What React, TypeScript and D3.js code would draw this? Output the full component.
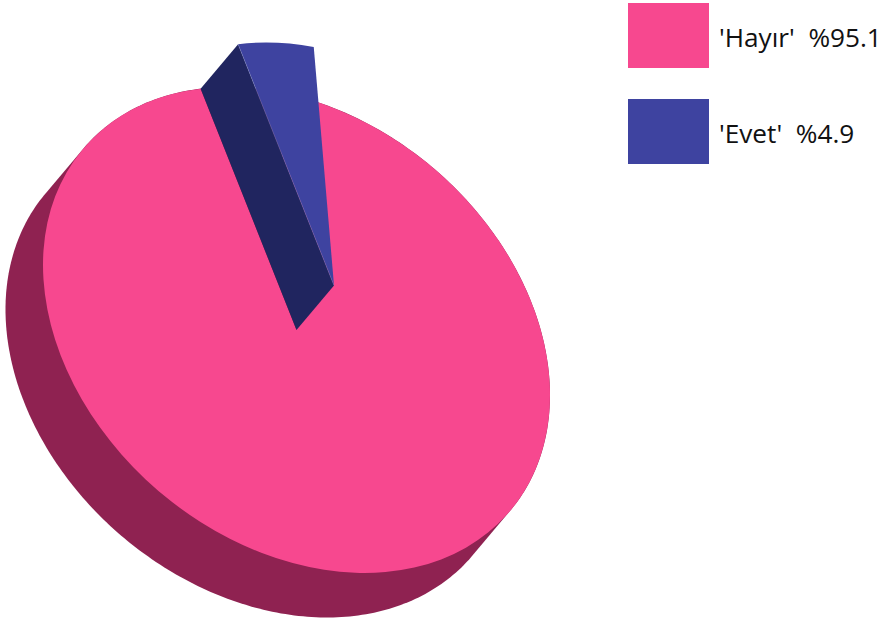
import React from "react";
import * as d3 from "d3";

const categories = ["'Hayır'", "'Evet'"];
const values = [95.1, 4.9];
const legendLabels = ["'Hayır'  %95.1", "'Evet'  %4.9"];
const topColors = ["#f7488f", "#3e43a0"];
const sideColors = ["#8f2251", "#20255f"];

const W = 882, H = 621;
const cx = 296.5, cy = 330;
const R = 100;
const mA = 2.535, mB = 0.651, mD = 2.341;
const depthX = -37.5, depthY = 44.5;
const startAngle = -0.08;

const proj = (t: number, r = R, dx = 0, dy = 0): [number, number] => {
  const x = r * Math.sin(t), y = -r * Math.cos(t);
  return [cx + mA * x + dx, cy + mB * x + mD * y + dy];
};

export default function App() {
  const pie = d3.pie<number>().sort(null).startAngle(startAngle).endAngle(2 * Math.PI + startAngle);
  const arcs = pie(values);
  const arc = d3.arc<d3.PieArcDatum<number>>().innerRadius(0).outerRadius(R);
  const matrix = `matrix(${mA},${mB},0,${mD},${cx},${cy})`;
  const angles = d3.range(0, 360).map((d) => (d * Math.PI) / 180);
  const hullPts = [
    ...angles.map((t) => proj(t)),
    ...angles.map((t) => proj(t, R, depthX, depthY)),
  ];
  const hull = d3.polygonHull(hullPts as [number, number][])!;
  const line = d3.line();
  const [pinkArc, blueArc] = arcs;
  const a0 = blueArc.startAngle;
  const blueWall = line([proj(0, 0), proj(a0), proj(a0, R, -depthX, -depthY), proj(0, 0, -depthX, -depthY)])!;
  const edge = line([proj(a0, R, -depthX, -depthY), proj(0, 0, -depthX, -depthY)])!;
  const legendY = d3.scalePoint<string>().domain(categories).range([3, 99]);
  return (
    <svg width={W} height={H} style={{ position: "absolute", left: 0, top: 0 }}>
      <path d={line(hull)! + "Z"} fill={sideColors[0]} />
      <path d={arc(pinkArc)!} transform={matrix} fill={topColors[0]} />
      <path d={blueWall + "Z"} fill={sideColors[1]} />
      <g transform={`translate(${-depthX},${-depthY})`}>
        <path d={arc(blueArc)!} transform={matrix} fill={topColors[1]} />
      </g>
      <path d={edge} fill="none" stroke="#8a8ec8" strokeWidth={0.6} strokeOpacity={0.6} />
      {categories.map((c, i) => (
        <g key={c} transform={`translate(628,${legendY(c)})`}>
          <rect width={81} height={65} fill={topColors[i]} />
          <text x={91} y={44} fontFamily="'Open Sans'" fontSize={26.2} fill="#111" style={{ whiteSpace: "pre" }}>
            {legendLabels[i]}
          </text>
        </g>
      ))}
    </svg>
  );
}
